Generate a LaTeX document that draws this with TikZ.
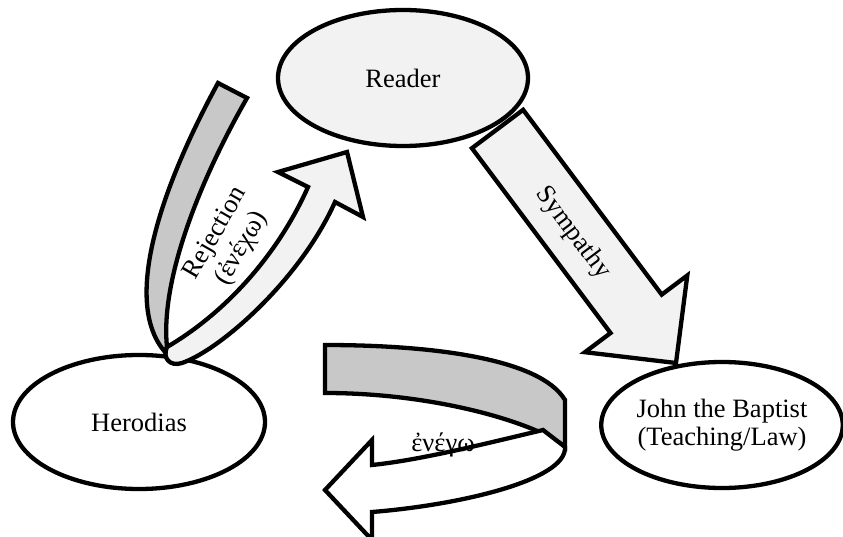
\documentclass[tikz,border=0pt]{standalone}
\usepackage{fontspec}
\setmainfont{Liberation Serif}
\usetikzlibrary{shapes.geometric}
\definecolor{paleFill}{RGB}{242,242,242}
\definecolor{bandGray}{RGB}{200,200,200}
\begin{document}
\begin{tikzpicture}[x=1pt,y=-1pt,
  outline/.style={draw=black,line width=4.3pt,line join=miter},
  party/.style={ellipse,outline,inner sep=0pt,align=center,
                font=\fontsize{26.5}{28}\selectfont},
  lbl/.style={font=\fontsize{26.5}{30}\selectfont,align=center,inner sep=0pt}]
\useasboundingbox (0,0) rectangle (843,537);
\clip (0,0) rectangle (843,537);

% the three parties
\node[party,fill=paleFill,minimum width=250pt,minimum height=136pt] (reader) at (403,78) {Reader};
\node[party,fill=white,minimum width=252pt,minimum height=134pt] (herodias) at (139,422) {Herodias};
\node[party,fill=white,minimum width=240pt,minimum height=126pt] (john) at (722,425) {John the Baptist\\(Teaching/Law)};

% straight block arrow: Reader -> John
\draw[outline,fill=paleFill] (471.9,148.2) -- (523.1,109.8) -- (661.7,294.6) -- (687.3,275.4)
  -- (676,363) -- (584.9,352.2) -- (610.5,333) -- cycle;
\node[lbl,rotate=-53.13] (symp) at (573,233) {Sympathy};

% twisted ribbon arrow: Herodias -> Reader (back face)
\draw[outline,fill=bandGray] (218,83) -- (247,98)
  .. controls (200,180) and (160,280) .. (167,347)
  -- (165,352)
  .. controls (120,300) and (165,180) .. (218,83) -- cycle;
% front face with head
\draw[outline,fill=paleFill] (167,347)
  .. controls (230,310) and (280,250) .. (308,187)
  -- (278,172) -- (347,152) -- (363,217) -- (335,202)
  .. controls (300,280) and (220,350) .. (182,363)
  .. controls (170,367) and (162,358) .. (167,347) -- cycle;
\node[lbl,rotate=60] (rej) at (229,241) {Rejection\\(ἐνέχω)};

% curled arrow below (back face)
\draw[outline,fill=bandGray] (325,345)
  .. controls (430,345) and (540,358) .. (565,400)
  -- (565,447)
  .. controls (540,425) and (440,393) .. (325,393) -- cycle;
% front face with head
\draw[outline,fill=white] (543,430)
  .. controls (480,445) and (420,460) .. (372,465)
  -- (372,440) -- (325,490) -- (372,540) -- (372,512)
  .. controls (460,505) and (567,480) .. (565,447) -- cycle;
\node[lbl] (enecho) at (443,445) {ἐνέγω};
\end{tikzpicture}
\end{document}
